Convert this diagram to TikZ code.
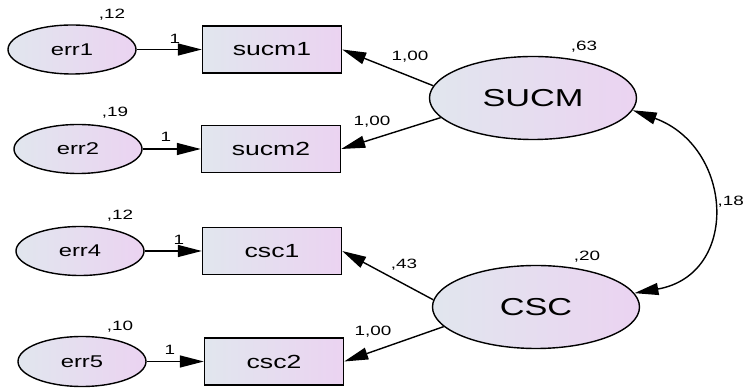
\documentclass[tikz,border=0pt]{standalone}
\usepackage{fontspec}
\setmainfont[FakeStretch=1.4]{Liberation Sans}
\usetikzlibrary{arrows.meta,shapes.geometric}
\definecolor{cLFT}{HTML}{E1E6EE}
\definecolor{cRGT}{HTML}{EBD3F1}

\begin{document}
\begin{tikzpicture}[x=1pt, y=1pt, line width=1.4pt, >={Triangle[length=24pt,width=12pt]},
  obs/.style={draw, rectangle, minimum width=139pt, minimum height=47pt, inner sep=0pt,
    left color=cLFT, right color=cRGT, font=\fontsize{19}{21}\selectfont},
  lat/.style={draw, ellipse, minimum width=207pt, minimum height=83pt, inner sep=0pt,
    left color=cLFT, right color=cRGT, font=\fontsize{24.5}{26}\selectfont},
  unq/.style={lat, minimum width=128pt, minimum height=49pt, font=\fontsize{17}{19}\selectfont},
  num/.style={inner sep=0pt, font=\fontsize{13.5}{15}\selectfont}]
\useasboundingbox (0,0) rectangle (745,388);

% latent factors
\node[lat] (SUCM) at (533,290) {SUCM};
\node[lat] (CSC) at (536,81) {CSC};

% indicators
\node[obs] (sucm1) at (272,338.5) {sucm1};
\node[obs] (sucm2) at (271,239) {sucm2};
\node[obs] (csc1) at (272,137) {csc1};
\node[obs] (csc2) at (274,26.5) {csc2};

% error terms
\node[unq] (err1) at (72,338.5) {err1};
\node[unq] (err2) at (78,239) {err2};
\node[unq] (err4) at (80,137) {err4};
\node[unq, minimum height=50pt] (err5) at (82,26.5) {err5};

\draw[->] (err1) -- (sucm1);
\draw[->] (err2) -- (sucm2);
\draw[->] (err4) -- (csc1);
\draw[->] (err5) -- (csc2);
\draw[->] (SUCM.173) -- (sucm1.east);
\draw[->] (SUCM.192) -- (sucm2.east);
\draw[->] (CSC.176) -- (csc1.east);
\draw[->] (CSC.192) -- (csc2.east);
\draw[<->] (SUCM.-7) to[out=-20, in=10, looseness=1.5] (CSC.8);

% estimates
\node[num] (v1) at (112,373) {,12};
\node[num] (v2) at (115,275) {,19};
\node[num] (v4) at (120,172) {,12};
\node[num] (v5) at (120,61) {,10};
\node[num] (vS) at (584,341) {,63};
\node[num] (vC) at (587,131) {,20};
\node[num, anchor=west] (cov) at (717,186) {,18};
\node[num] (f1) at (175,349) {1};
\node[num] (f2) at (166,251) {1};
\node[num] (f4) at (179,148) {1};
\node[num] (f5) at (170,38) {1};
\node[num] (l1) at (410,331) {1,00};
\node[num] (l2) at (372,266) {1,00};
\node[num] (l3) at (404,123) {,43};
\node[num] (l4) at (373,56) {1,00};
\end{tikzpicture}
\end{document}
